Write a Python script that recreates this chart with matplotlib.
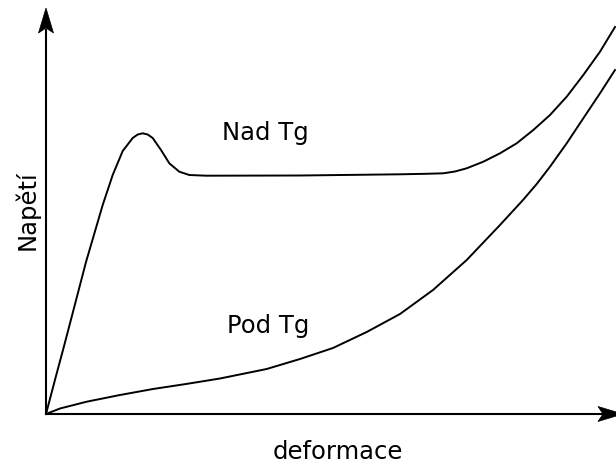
import matplotlib
matplotlib.use("Agg")
import matplotlib.pyplot as plt
from matplotlib.patches import Polygon

# deformation / stress, arbitrary units
nad_x = [0, 10, 17, 23.3, 40, 56.7, 66.7, 76.7, 86.7, 91.7, 96.7, 101.7,
         106.7, 115, 123.3, 133.3, 143.3, 160, 254, 354, 380, 397.3, 409,
         420.7, 437.3, 454, 470.7, 487.3, 504, 520.7, 537.3, 554, 569]
nad_y = [0, 38, 64, 88, 152, 209, 239, 263, 276, 279.5, 280.7, 279.5,
         276, 264, 250.7, 242.3, 239, 238.3, 238.5, 239.7, 240.2, 240.7,
         242.5, 245.7, 252.3, 260.7, 270.7, 284, 299, 317.3, 339, 362.3, 387]

pod_x = [0, 14, 40.7, 74, 107, 140, 174, 220.7, 254, 287, 320.7, 354, 387,
         420.7, 454, 477, 490.7, 504, 520.7, 537.3, 554, 569]
pod_y = [0, 5.5, 12.3, 19, 25, 30, 35.5, 45, 55, 66, 82, 100, 124, 154, 189,
         214, 230, 247.3, 270.7, 295.7, 320.7, 344]

labels = ["Nad Tg", "Pod Tg"]
xlabel = "deformace"
ylabel = "Napětí"

fig = plt.figure(figsize=(6.16, 4.63), dpi=100)
ax = fig.add_axes([0, 0, 1, 1])
ax.set_xlim(-46, 570)
ax.set_ylim(-49, 414)
ax.axis("off")

# axes with notched arrow heads
ax.plot([0, 0], [0, 385], color="black", lw=1.5, solid_capstyle="butt")
ax.plot([0, 590], [0, 0], color="black", lw=1.5, solid_capstyle="butt")
ax.add_patch(Polygon([(0, 406), (7.5, 381), (0, 386), (-7.5, 381)],
                     closed=True, fc="black", ec="black", lw=0.5))
ax.add_patch(Polygon([(577, 0), (552, 7.5), (557, 0), (552, -7.5)],
                     closed=True, fc="black", ec="black", lw=0.5, clip_on=False))

ax.plot(nad_x, nad_y, color="black", lw=1.4, clip_on=False,
        solid_joinstyle="round")
ax.plot(pod_x, pod_y, color="black", lw=1.4, clip_on=False,
        solid_joinstyle="round")

fs = 17.5
ax.text(219, 274, labels[0], ha="center", va="baseline", fontsize=fs)
ax.text(222, 80.7, labels[1], ha="center", va="baseline", fontsize=fs)
ax.text(292, -45, xlabel, ha="center", va="baseline", fontsize=fs)
ax.text(-11, 204, ylabel, ha="center", va="baseline", fontsize=fs,
        rotation=90, rotation_mode="anchor")

fig.savefig("out.png", dpi=100)
